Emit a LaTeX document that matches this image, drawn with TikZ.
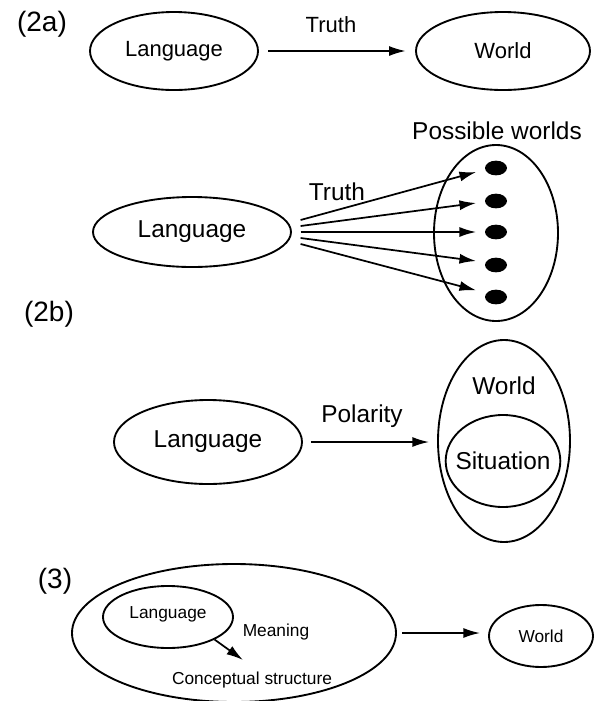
\documentclass[tikz,border=0pt]{standalone}
\usepackage{fontspec}
\setmainfont{Liberation Sans}
\usetikzlibrary{arrows.meta,shapes.geometric}

\tikzset{every picture/.style={line width=1.3pt}}
\tikzset{
  oval/.style={draw, ellipse, inner sep=0pt, line width=1.4pt},
  spot/.style={fill, ellipse, inner sep=0pt, minimum width=16.5pt, minimum height=11pt},
  tag/.style={font=\fontsize{21}{24}\selectfont},
  txta/.style={font=\fontsize{16.5}{19}\selectfont},
  txtb/.style={font=\fontsize{18.3}{21}\selectfont},
  txtc/.style={font=\fontsize{13}{15}\selectfont},
  arr/.style={-{Latex[length=12.5pt,width=7.5pt]}},
}

\begin{document}
\begin{tikzpicture}[x=0.75pt,y=0.75pt,yscale=-1,xscale=1]
\useasboundingbox (0,0) rectangle (596,701);

% ---- (2a) ----
% Text Node
\node [tag] (lab2a) at (42,24) {(2a)};
%Shape: Ellipse
\node [oval, txta, minimum width=126pt, minimum height=58.5pt] (lang1) at (174,51) {Language};
%Shape: Ellipse
\node [oval, txta, minimum width=130.5pt, minimum height=58.5pt] (world1) at (503,51) {World};
%Straight Lines
\draw [arr, shorten <=7pt, shorten >=7pt] (lang1) -- (world1);
% Text Node
\node [txta] (truth1) at (331,25) {Truth};

% Text Node
\node [txtb] (pwlab) at (497,131) {Possible worlds};
%Shape: Ellipse
\node [oval, minimum width=93pt, minimum height=132pt] (pw) at (496,233) {};
%Shape: Ellipse
\node [spot] (dot1) at (496,168) {};
\node [spot] (dot2) at (496,201) {};
\node [spot] (dot3) at (496,232) {};
\node [spot] (dot4) at (496,265) {};
\node [spot] (dot5) at (496,297) {};
%Shape: Ellipse
\node [oval, txtb, minimum width=148.5pt, minimum height=52.5pt] (lang2) at (192,232) {Language};
% Text Node
\node [txtb] (truth2) at (337,192) {Truth};
%Straight Lines (yshift runs downwards here, as yscale=-1)
\draw [arr] ([xshift=6.5pt,yshift=-9pt]lang2.east) -- ([xshift=-6pt,yshift=3pt]dot1.west);
\draw [arr] ([xshift=6.5pt,yshift=-4.5pt]lang2.east) -- ([xshift=-6pt,yshift=1.5pt]dot2.west);
\draw [arr] ([xshift=6.5pt]lang2.east) -- ([xshift=-6pt]dot3.west);
\draw [arr] ([xshift=6.5pt,yshift=4.5pt]lang2.east) -- ([xshift=-6pt,yshift=-3pt]dot4.west);
\draw [arr] ([xshift=6.5pt,yshift=9pt]lang2.east) -- ([xshift=-6pt,yshift=-5pt]dot5.west);

% ---- (2b) ----
% Text Node
\node [tag] (lab2b) at (49,314) {(2b)};
%Shape: Ellipse
\node [oval, txtb, minimum width=141pt, minimum height=63pt] (lang3) at (208,442) {Language};
%Shape: Ellipse
\node [oval, minimum width=99pt, minimum height=151.5pt] (world2) at (504,441) {};
% Text Node
\node [txtb] (world2lab) at (504,386) {World};
%Shape: Ellipse
\node [oval, minimum width=86pt, minimum height=69pt, label={[txtb]center:Situation}] (sit) at (503,461) {};
%Straight Lines
\draw [arr, shorten <=6pt, shorten >=6pt] (lang3) -- (lang3 -| world2.west);
% Text Node
\node [txtb] (polar) at (362,416) {Polarity};

% ---- (3) ----
% Text Node
\node [tag] (lab3) at (55,581) {(3)};
%Shape: Ellipse
\node [oval, minimum width=243pt, minimum height=103.5pt] (mind) at (234,633) {};
%Shape: Ellipse
\node [oval, minimum width=97.5pt, minimum height=46.5pt, label={[txtc,yshift=2pt]center:Language}] (lang4) at (168,617) {};
% Text Node
\node [txtc] (meaning) at (276,632) {Meaning};
% Text Node
\node [txtc] (concept) at (252,680) {Conceptual structure};
\coordinate (ctip) at (243,660);
%Straight Lines
\draw [arr] (lang4.south east) -- (ctip);
%Shape: Ellipse
\node [oval, txtc, minimum width=78pt, minimum height=46.5pt] (world3) at (541,636) {World};
%Straight Lines
\draw [arr, shorten <=4pt, shorten >=6pt] (mind) -- (mind -| world3.west);

\end{tikzpicture}
\end{document}
